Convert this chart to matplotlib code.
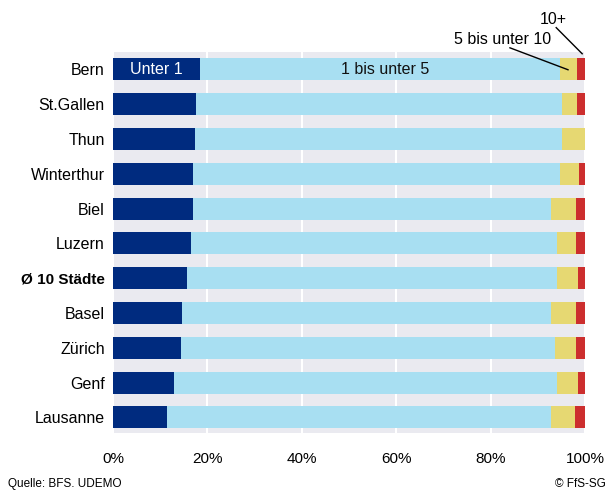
import matplotlib.pyplot as plt
import numpy as np

plt.rcParams['font.family'] = ['Liberation Sans', 'DejaVu Sans']

staedte = ["Bern", "St.Gallen", "Thun", "Winterthur", "Biel", "Luzern",
           "Ø 10 Städte", "Basel", "Zürich", "Genf", "Lausanne"]
unter1 = [18.4, 17.6, 17.4, 16.9, 16.9, 16.5, 15.7, 14.6, 14.4, 12.9, 11.4]
u1_5 = [76.3, 77.5, 77.7, 77.7, 76.0, 77.6, 78.4, 78.3, 79.3, 81.2, 81.5]
u5_10 = [3.7, 3.2, 4.9, 4.2, 5.2, 4.0, 4.4, 5.2, 4.4, 4.4, 5.0]
plus10 = [1.6, 1.7, 0.0, 1.2, 1.9, 1.9, 1.5, 1.9, 1.9, 1.5, 2.1]
serien = ["Unter 1", "1 bis unter 5", "5 bis unter 10", "10+"]
farben = ["#002B7F", "#A8DFF2", "#E6D872", "#CC2E2E"]

fig = plt.figure(figsize=(6.14, 4.92), dpi=100)
ax = fig.add_axes([113/614, 1-433/492, 472/614, 381/492])
ax.set_facecolor("#EAEAF0")

y = np.arange(len(staedte))
links = np.zeros(len(staedte))
for werte, farbe in zip([unter1, u1_5, u5_10, plus10], farben):
    werte = np.array(werte)
    ax.barh(y, werte, left=links, height=0.63, color=farbe, zorder=3)
    links += werte

ax.set_xlim(0, 100)
ax.set_ylim(10.45, -0.5)
ax.set_xticks(np.arange(0, 101, 20))
ax.set_xticklabels([f"{v}%" for v in range(0, 101, 20)], fontsize=11)
ax.set_yticks(y)
ax.set_yticklabels(staedte, fontsize=11.5)
ax.get_yticklabels()[6].set_fontweight("bold")
ax.get_yticklabels()[6].set_fontsize(11)
ax.tick_params(length=0, pad=6)
ax.tick_params(axis="x", pad=14)
ax.grid(axis="x", color="white", linewidth=1.5, zorder=1)
for s in ax.spines.values():
    s.set_visible(False)

# Beschriftungen in der ersten Zeile
ax.text(unter1[0] / 2, 0, serien[0], color="white", ha="center", va="center", fontsize=11.5, zorder=4)
ax.text(57.6, 0, serien[1], color="#111111", ha="center", va="center", fontsize=11.5, zorder=4)
ax.text(82.5, -0.64, serien[2], ha="center", va="bottom", fontsize=11.5)
ax.plot([84.1, 96.4], [-0.62, 0.01], color="black", lw=1, clip_on=False, zorder=5)
ax.text(93.2, -1.22, serien[3], ha="center", va="bottom", fontsize=11.5)
ax.plot([93.9, 99.4], [-1.2, -0.45], color="black", lw=1, clip_on=False, zorder=5)

fig.text(8/614, 1-487/492, "Quelle: BFS. UDEMO", fontsize=8.5, va="baseline")
fig.text(606/614, 1-487/492, "© FfS-SG", fontsize=8.5, va="baseline", ha="right")

fig.savefig("out.png", dpi=100)
